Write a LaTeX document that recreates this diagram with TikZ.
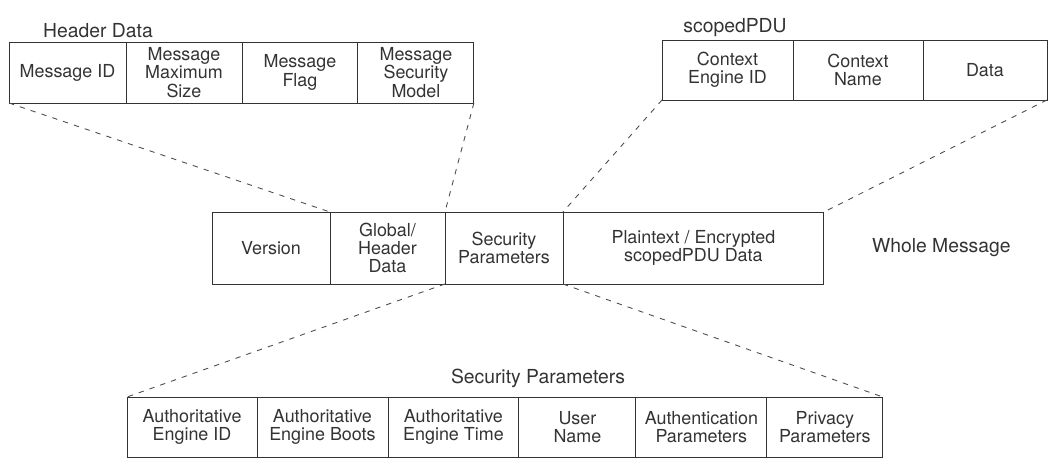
\documentclass[tikz,border=0pt]{standalone}
\usepackage{fontspec}
\setmainfont{TeX Gyre Heros}
\usetikzlibrary{positioning}

\begin{document}
\begin{tikzpicture}[x=0.02cm,y=-0.02cm,
 cell/.style={draw=black!80,line width=0.5pt,outer sep=0pt,inner sep=1pt,align=center,
   text=black!80,font=\fontsize{10.2}{10.4}\selectfont},
 title/.style={text=black!80,font=\fontsize{11}{12}\selectfont},
 link/.style={line width=0.5pt,dash pattern=on 3pt off 3.5pt,black!70}]

  \useasboundingbox (0,0) rectangle (1050,463);

  % header data
  \node[title] (hdtitle) at (98,31) {Header Data};
  \node[cell,minimum width=2.34cm,minimum height=1.22cm,anchor=north west] (h1) at (9,42) {Message ID};
  \node[cell,minimum width=2.32cm,minimum height=1.22cm] (h2) [right=0pt of h1] {Message\\Maximum\\Size};
  \node[cell,minimum width=2.32cm,minimum height=1.22cm] (h3) [right=0pt of h2] {Message\\Flag};
  \node[cell,minimum width=2.32cm,minimum height=1.22cm] (h4) [right=0pt of h3] {Message\\Security\\Model};

  % scopedPDU
  \node[title] (pdutitle) at (735,28) {scopedPDU};
  \node[cell,minimum width=2.62cm,minimum height=1.2cm,anchor=north west] (s1) at (662,40) {Context\\Engine ID};
  \node[cell,minimum width=2.6cm,minimum height=1.2cm] (s2) [right=0pt of s1] {Context\\Name};
  \node[cell,minimum width=2.48cm,minimum height=1.2cm] (s3) [right=0pt of s2] {Data};

  % whole message
  \node[cell,minimum width=2.36cm,minimum height=1.44cm,anchor=north west] (m1) at (212,212) {Version};
  \node[cell,minimum width=2.3cm,minimum height=1.44cm] (m2) [right=0pt of m1] {Global/\\Header\\Data};
  \node[cell,minimum width=2.36cm,minimum height=1.44cm] (m3) [right=0pt of m2] {Security\\Parameters};
  \node[cell,minimum width=5.22cm,minimum height=1.44cm] (m4) [right=0pt of m3] {Plaintext / Encrypted\\scopedPDU Data};
  \node[title] (wholetitle) [right=0.84cm of m4] {Whole Message};

  % security parameters
  \node[title] (sectitle) at (538,378) {Security Parameters};
  \node[cell,minimum width=2.6cm,minimum height=1.2cm,anchor=north west] (b1) at (127,397) {Authoritative\\Engine ID};
  \node[cell,minimum width=2.62cm,minimum height=1.2cm] (b2) [right=0pt of b1] {Authoritative\\Engine Boots};
  \node[cell,minimum width=2.62cm,minimum height=1.2cm] (b3) [right=0pt of b2] {Authoritative\\Engine Time};
  \node[cell,minimum width=2.34cm,minimum height=1.2cm] (b4) [right=0pt of b3] {User\\Name};
  \node[cell,minimum width=2.62cm,minimum height=1.2cm] (b5) [right=0pt of b4] {Authentication\\Parameters};
  \node[cell,minimum width=2.32cm,minimum height=1.2cm] (b6) [right=0pt of b5] {Privacy\\Parameters};

  \draw[link] (h1.south west) -- (m2.north west);
  \draw[link] (h4.south east) -- (m3.north west);
  \draw[link] (s1.south west) -- (m4.north west);
  \draw[link] (s3.south east) -- (m4.north east);
  \draw[link] (m3.south west) -- (b1.north west);
  \draw[link] (m3.south east) -- (b6.north east);
\end{tikzpicture}
\end{document}
